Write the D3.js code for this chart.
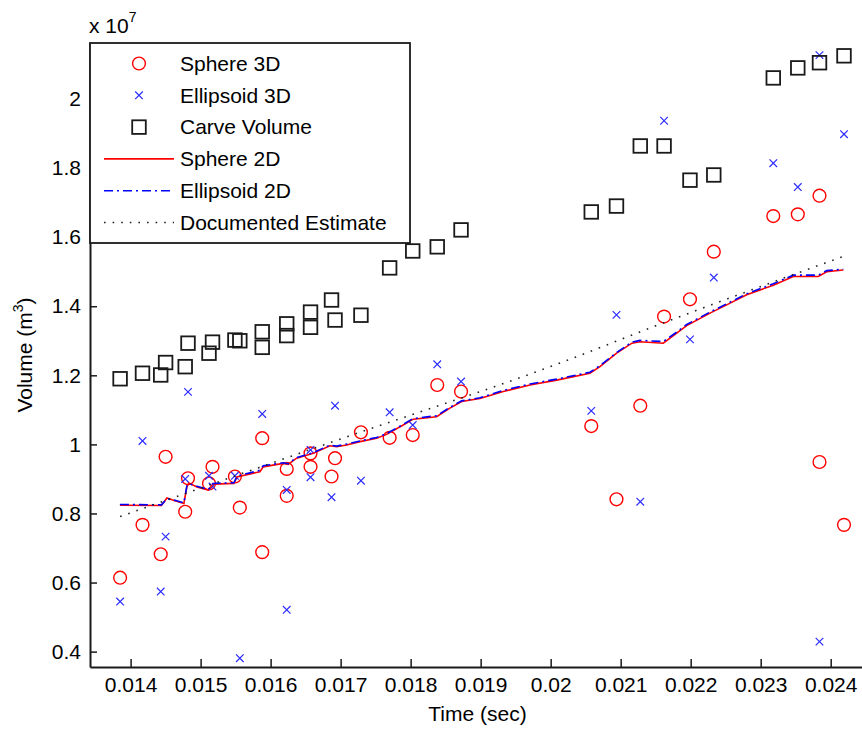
<!DOCTYPE html>
<html>
<head>
<meta charset="utf-8">
<script src="https://cdn.jsdelivr.net/npm/d3@7"></script>
<style>
  html, body { margin: 0; padding: 0; background: #fff; }
  svg text { font-family: "Liberation Sans", Arial, Helvetica, sans-serif; fill: #000; }
</style>
</head>
<body>
<svg id="chart" width="862" height="730"></svg>
<script>
// ---------- data (volumes in units of 1e7 m^3) ----------
const sphere3dTime = [0.01385,0.01417,0.01443,0.01450,0.01478,0.01482,0.01512,0.01517,0.01549,0.01556,0.01588,0.01588,0.01623,0.01623,0.01657,0.01657,0.01687,0.01692,0.01729,0.01770,0.01803,0.01838,0.01872,0.02058,0.02094,0.02128,0.02162,0.02199,0.02233,0.02318,0.02353,0.02384,0.02384,0.02419];
const sphere3dVol  = [0.614,0.767,0.682,0.964,0.805,0.902,0.887,0.935,0.907,0.817,1.018,0.688,0.929,0.851,0.935,0.974,0.907,0.960,1.035,1.019,1.027,1.172,1.153,1.053,0.841,1.112,1.370,1.420,1.558,1.661,1.666,1.720,0.949,0.767];

const ellipsoid3dTime = [0.01385,0.01417,0.01443,0.01450,0.01478,0.01482,0.01512,0.01517,0.01549,0.01556,0.01588,0.01623,0.01623,0.01657,0.01657,0.01687,0.01692,0.01729,0.01770,0.01803,0.01838,0.01872,0.02058,0.02094,0.02128,0.02162,0.02199,0.02233,0.02318,0.02353,0.02384,0.02384,0.02419];
const ellipsoid3dVol  = [0.545,1.010,0.574,0.733,0.900,1.152,0.909,0.878,0.909,0.381,1.088,0.868,0.521,0.905,0.984,0.847,1.112,0.895,1.093,1.056,1.232,1.182,1.097,1.375,0.834,1.937,1.304,1.483,1.814,1.745,2.127,0.429,1.898];

const carveTime = [0.01385,0.01417,0.01443,0.01450,0.01478,0.01482,0.01512,0.01517,0.01549,0.01556,0.01588,0.01588,0.01623,0.01623,0.01657,0.01657,0.01687,0.01692,0.01729,0.01770,0.01803,0.01838,0.01872,0.02058,0.02094,0.02128,0.02162,0.02199,0.02233,0.02318,0.02353,0.02384,0.02419];
const carveVol  = [1.190,1.206,1.201,1.237,1.225,1.293,1.264,1.296,1.302,1.300,1.326,1.281,1.349,1.315,1.383,1.339,1.418,1.360,1.374,1.511,1.560,1.572,1.621,1.673,1.690,1.864,1.864,1.765,1.780,2.061,2.090,2.105,2.125];

const line2dTime = [0.013847,0.014440,0.014519,0.014633,0.014761,0.014804,0.014833,0.014947,0.015109,0.015176,0.015476,0.015519,0.015847,0.015894,0.016180,0.016251,0.016371,0.016609,0.016847,0.016943,0.017086,0.017276,0.017514,0.017657,0.017894,0.018037,0.018371,0.018561,0.018729,0.018990,0.019323,0.019704,0.020086,0.020561,0.020704,0.020943,0.021161,0.021276,0.021609,0.021800,0.021943,0.022276,0.022514,0.022800,0.023180,0.023466,0.023823,0.023943,0.024180];
const sphere2dVol = [0.824,0.823,0.845,0.837,0.829,0.878,0.888,0.877,0.868,0.885,0.887,0.906,0.921,0.935,0.945,0.942,0.960,0.974,0.996,0.993,0.998,1.008,1.018,1.029,1.056,1.073,1.080,1.105,1.124,1.133,1.153,1.172,1.186,1.206,1.225,1.264,1.293,1.297,1.293,1.322,1.344,1.380,1.404,1.433,1.461,1.486,1.486,1.500,1.505];
const ellipsoid2dVol = [0.826,0.825,0.843,0.838,0.831,0.880,0.886,0.879,0.869,0.887,0.889,0.908,0.925,0.938,0.947,0.944,0.962,0.976,0.998,0.995,1.001,1.010,1.020,1.031,1.058,1.075,1.083,1.107,1.126,1.135,1.156,1.175,1.189,1.209,1.228,1.266,1.296,1.301,1.298,1.325,1.347,1.383,1.407,1.436,1.465,1.490,1.490,1.503,1.507];

const estimateTime = [0.01385,0.01689,0.02018,0.02151,0.02419];
const estimateVol  = [0.791,1.008,1.239,1.344,1.545];

const xTicks = [0.014,0.015,0.016,0.017,0.018,0.019,0.020,0.021,0.022,0.023,0.024];
const xTickLabels = ["0.014","0.015","0.016","0.017","0.018","0.019","0.02","0.021","0.022","0.023","0.024"];
const yTicks = [0.4,0.6,0.8,1.0,1.2,1.4,1.6,1.8,2.0];
const yTickLabels = ["0.4","0.6","0.8","1","1.2","1.4","1.6","1.8","2"];

const legendLabels = ["Sphere 3D","Ellipsoid 3D","Carve Volume","Sphere 2D","Ellipsoid 2D","Documented Estimate"];

// ---------- layout ----------
const svg = d3.select("#chart");
const L = 90, R = 865, T = 43, B = 667;
const x = d3.scaleLinear().domain([0.01342, 0.02449]).range([L, R]);
const y = d3.scaleLinear().domain([0.3555, 2.1621]).range([B, T]);
const FONT = 21;
const axisColor = "#1a1a1a";

svg.append("rect").attr("width", 862).attr("height", 730).attr("fill", "#fff");

// ---------- axes ----------
const gx = svg.append("g").attr("transform", `translate(0,${B})`)
  .call(d3.axisBottom(x).tickValues(xTicks).tickFormat((d, i) => xTickLabels[i]).tickSizeInner(-8).tickSizeOuter(0).tickPadding(12));
gx.select(".domain").attr("stroke", axisColor).attr("stroke-width", 2);
gx.selectAll(".tick line").attr("stroke", axisColor).attr("stroke-width", 1.5);
gx.selectAll(".tick text").attr("font-size", FONT).attr("font-family", "Liberation Sans, Arial, sans-serif").attr("fill", "#000").attr("dy", "0.71em").attr("y", 10);

const gy = svg.append("g").attr("transform", `translate(${L},0)`)
  .call(d3.axisLeft(y).tickValues(yTicks).tickFormat((d, i) => yTickLabels[i]).tickSizeInner(-7).tickSizeOuter(0).tickPadding(10));
gy.select(".domain").attr("stroke", axisColor).attr("stroke-width", 2);
gy.selectAll(".tick line").attr("stroke", axisColor).attr("stroke-width", 1.5);
gy.selectAll(".tick text").attr("font-size", FONT).attr("font-family", "Liberation Sans, Arial, sans-serif").attr("fill", "#000").attr("x", -9);

// exponent label
const expo = svg.append("text").attr("x", 89).attr("y", 33).attr("font-size", FONT);
expo.append("tspan").text("x 10");
expo.append("tspan").attr("font-size", 14).attr("dy", -11).text("7");

// axis labels
svg.append("text").attr("x", (L + R) / 2).attr("y", 721).attr("text-anchor", "middle").attr("font-size", FONT).text("Time (sec)");
const yl = svg.append("text").attr("transform", `translate(32,${(T + B) / 2}) rotate(-90)`).attr("text-anchor", "middle").attr("font-size", FONT);
yl.append("tspan").text("Volume (m");
yl.append("tspan").attr("font-size", 14).attr("dy", -9).text("3");
yl.append("tspan").attr("dy", 9).text(")");

// ---------- marks ----------
const plot = svg.append("g");

// Sphere 3D circles
plot.append("g").selectAll("circle")
  .data(d3.zip(sphere3dTime, sphere3dVol)).join("circle")
  .attr("cx", d => x(d[0])).attr("cy", d => y(d[1])).attr("r", 6.4)
  .attr("fill", "none").attr("stroke", "#ff0000").attr("stroke-width", 1.4);

// Ellipsoid 3D crosses
const xs = 3.8;
plot.append("g").selectAll("path")
  .data(d3.zip(ellipsoid3dTime, ellipsoid3dVol)).join("path")
  .attr("d", d => {
    const cx = x(d[0]), cy = y(d[1]);
    return `M${cx - xs},${cy - xs}L${cx + xs},${cy + xs}M${cx - xs},${cy + xs}L${cx + xs},${cy - xs}`;
  })
  .attr("fill", "none").attr("stroke", "#2b2bff").attr("stroke-width", 1.2);

// Carve squares
const sq = 6.8;
plot.append("g").selectAll("rect")
  .data(d3.zip(carveTime, carveVol)).join("rect")
  .attr("x", d => x(d[0]) - sq).attr("y", d => y(d[1]) - sq)
  .attr("width", sq * 2).attr("height", sq * 2)
  .attr("fill", "none").attr("stroke", "#1a1a1a").attr("stroke-width", 1.8);

const lineGen = d3.line().x(d => x(d[0])).y(d => y(d[1]));

// Sphere 2D
plot.append("path").datum(d3.zip(line2dTime, sphere2dVol))
  .attr("d", lineGen).attr("fill", "none").attr("stroke", "#ff0000").attr("stroke-width", 1.6);

// Ellipsoid 2D
plot.append("path").datum(d3.zip(line2dTime, ellipsoid2dVol))
  .attr("d", lineGen).attr("fill", "none").attr("stroke", "#0000ff").attr("stroke-width", 1.6)
  .attr("stroke-dasharray", "9,4,2,4");

// Documented estimate
plot.append("path").datum(d3.zip(estimateTime, estimateVol))
  .attr("d", d3.line().curve(d3.curveMonotoneX).x(d => x(d[0])).y(d => y(d[1])))
  .attr("fill", "none").attr("stroke", "#222").attr("stroke-width", 1.6)
  .attr("stroke-dasharray", "1.6,7");

// ---------- legend ----------
const leg = svg.append("g");
leg.append("rect").attr("x", 90).attr("y", 43).attr("width", 320).attr("height", 200)
  .attr("fill", "#fff").attr("stroke", "#1a1a1a").attr("stroke-width", 1.8);
const rowY = i => 63.5 + i * 31.8;
const mx = 139, lx1 = 104, lx2 = 174, tx = 180;
legendLabels.forEach((lab, i) => {
  leg.append("text").attr("x", tx).attr("y", rowY(i)).attr("dy", "0.35em").attr("font-size", FONT).text(lab);
});
leg.append("circle").attr("cx", mx).attr("cy", rowY(0)).attr("r", 6.4).attr("fill", "none").attr("stroke", "#ff0000").attr("stroke-width", 1.4);
leg.append("path").attr("d", `M${mx - xs},${rowY(1) - xs}L${mx + xs},${rowY(1) + xs}M${mx - xs},${rowY(1) + xs}L${mx + xs},${rowY(1) - xs}`)
  .attr("stroke", "#2b2bff").attr("stroke-width", 1.2);
leg.append("rect").attr("x", mx - sq).attr("y", rowY(2) - sq).attr("width", sq * 2).attr("height", sq * 2)
  .attr("fill", "none").attr("stroke", "#1a1a1a").attr("stroke-width", 1.8);
leg.append("line").attr("x1", lx1).attr("x2", lx2).attr("y1", rowY(3)).attr("y2", rowY(3)).attr("stroke", "#ff0000").attr("stroke-width", 1.6);
leg.append("line").attr("x1", lx1).attr("x2", lx2).attr("y1", rowY(4)).attr("y2", rowY(4)).attr("stroke", "#0000ff").attr("stroke-width", 1.6).attr("stroke-dasharray", "9,4,2,4");
leg.append("line").attr("x1", lx1).attr("x2", lx2).attr("y1", rowY(5)).attr("y2", rowY(5)).attr("stroke", "#222").attr("stroke-width", 1.6).attr("stroke-dasharray", "1.6,7");
</script>
</body>
</html>
